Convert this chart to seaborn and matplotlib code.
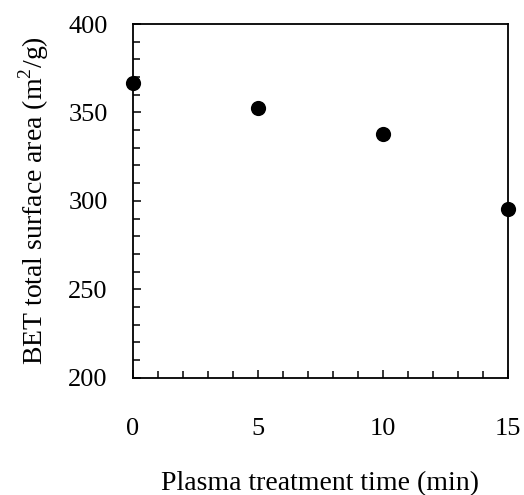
import pandas as pd
import seaborn as sns
import matplotlib as mpl
import matplotlib.pyplot as plt
from matplotlib.ticker import MultipleLocator

# values
time_min = [0, 5, 10, 15]
bet_area = [366.5, 352.7, 337.8, 295.4]

sns.set_theme(style="ticks")
mpl.rcParams["font.family"] = ["Liberation Serif", "DejaVu Serif"]
mpl.rcParams["mathtext.fontset"] = "custom"
mpl.rcParams["mathtext.rm"] = "Liberation Serif"

fig = plt.figure(figsize=(5.24, 4.95), dpi=100)
ax = fig.add_axes([0.253, 0.237, 0.7165, 0.7145])

df = pd.DataFrame({"time": time_min, "area": bet_area})
sns.scatterplot(data=df, x="time", y="area", ax=ax, color="black",
                s=120, edgecolor="black", linewidth=0, clip_on=False, zorder=5)

ax.set_xlim(0, 15)
ax.set_ylim(200, 400)
ax.xaxis.set_major_locator(MultipleLocator(5))
ax.xaxis.set_minor_locator(MultipleLocator(1))
ax.yaxis.set_major_locator(MultipleLocator(50))
ax.yaxis.set_minor_locator(MultipleLocator(10))

for sp in ax.spines.values():
    sp.set_color("black")
    sp.set_linewidth(1.3)

ax.tick_params(which="both", direction="in", color="black", width=1.1,
               labelsize=19, labelcolor="black")
ax.tick_params(which="major", length=6)
ax.tick_params(which="minor", length=5)
ax.tick_params(axis="x", which="major", pad=29)
ax.tick_params(axis="y", which="major", pad=18)

ax.set_xlabel("Plasma treatment time (min)", fontsize=20, color="black")
ax.set_ylabel(r"BET total surface area (m$^{2}$/g)", fontsize=20,
              color="black")
ax.xaxis.set_label_coords(0.5, -0.265)
ax.yaxis.set_label_coords(-0.218, 0.5)

plt.savefig("out.png", dpi=100)
